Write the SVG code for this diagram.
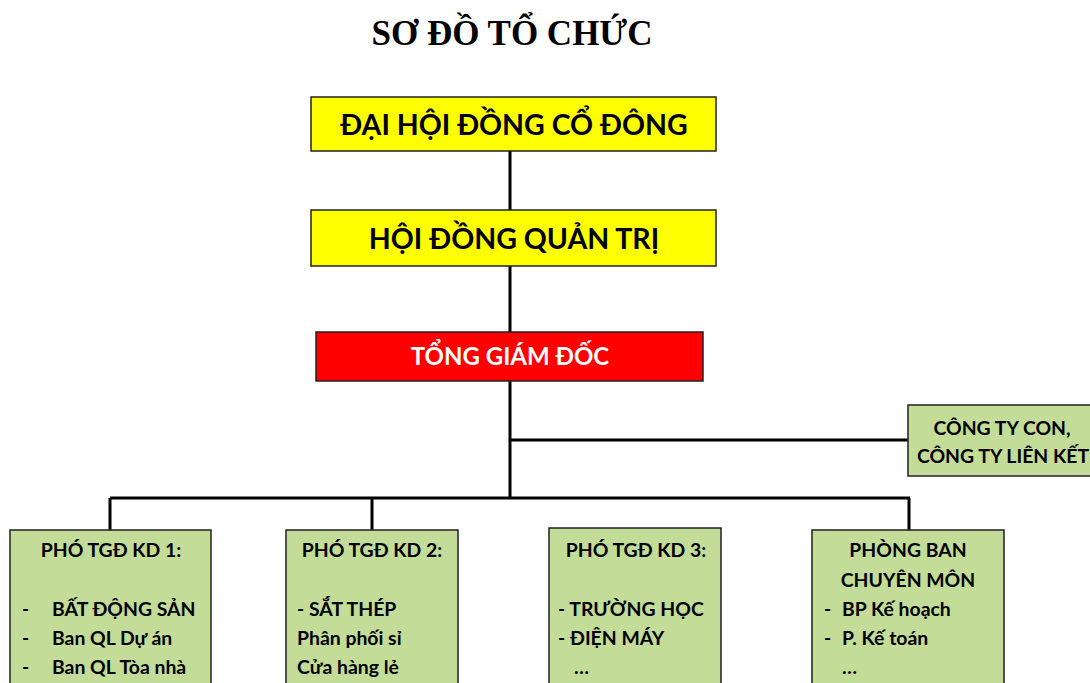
<svg xmlns="http://www.w3.org/2000/svg" width="1090" height="683" viewBox="0 0 1090 683">
<style>
.box{stroke:#222;stroke-width:1.5}
.y{fill:#FFFF00}
.r{fill:#FF0000}
.g{fill:#C3DC97}
.t{font-family:Lato,"Open Sans","Liberation Sans",sans-serif;font-weight:bold;fill:#000}
.w{fill:#fff}
.c{text-anchor:middle}
.s{font-size:19.4px}
.ln{stroke:#000;stroke-width:3;fill:none}
</style>
<rect width="1090" height="683" fill="#fff"/>
<text x="512" y="45" text-anchor="middle" font-family="'Liberation Serif',serif" font-weight="bold" font-size="35">SƠ ĐỒ TỔ CHỨC</text>
<g id="connectors">
<path class="ln" d="M510 151V210M510 266V332M510 381V498M510 440H908M110 498H910M110 498V530M372 498V530M909 498V530"/>
</g>
<g id="dhdcd">
<rect class="box y" x="311" y="97" width="405" height="54"/>
<text class="t c" x="514" y="135" font-size="28.5">ĐẠI HỘI ĐỒNG CỔ ĐÔNG</text>
</g>
<g id="hdqt">
<rect class="box y" x="311" y="210" width="405" height="56"/>
<text class="t c" x="514" y="249" font-size="28.5">HỘI ĐỒNG QUẢN TRỊ</text>
</g>
<g id="tgd">
<rect class="box r" x="316" y="332" width="387" height="49"/>
<text class="t w c" x="510" y="365" font-size="24">TỔNG GIÁM ĐỐC</text>
</g>
<g id="congtycon">
<rect class="box g" x="908" y="405" width="190" height="71"/>
<text class="t c s" x="1002" y="435">CÔNG TY CON,</text>
<text class="t c s" x="1003" y="463">CÔNG TY LIÊN KẾT</text>
</g>
<g id="pho1">
<rect class="box g" x="10" y="530" width="201" height="160"/>
<text class="t c s" x="111" y="557">PHÓ TGĐ KD 1:</text>
<text class="t s" x="22" y="616">-</text><text class="t s" x="52" y="616">BẤT ĐỘNG SẢN</text>
<text class="t s" x="22" y="645">-</text><text class="t s" x="52" y="645">Ban QL Dự án</text>
<text class="t s" x="22" y="674">-</text><text class="t s" x="52" y="674">Ban QL Tòa nhà</text>
</g>
<g id="pho2">
<rect class="box g" x="286" y="530" width="172" height="160"/>
<text class="t c s" x="372" y="557">PHÓ TGĐ KD 2:</text>
<text class="t s" x="297" y="616">-  SẮT THÉP</text>
<text class="t s" x="297" y="645">Phân phối sỉ</text>
<text class="t s" x="297" y="674">Cửa hàng lẻ</text>
</g>
<g id="pho3">
<rect class="box g" x="549" y="528" width="172" height="162"/>
<text class="t c s" x="636" y="557">PHÓ TGĐ KD 3:</text>
<text class="t s" x="558" y="616">- TRƯỜNG HỌC</text>
<text class="t s" x="558" y="645">- ĐIỆN MÁY</text>
<text class="t s" x="574" y="674">…</text>
</g>
<g id="phongban">
<rect class="box g" x="812" y="530" width="192" height="160"/>
<text class="t c s" x="908" y="557">PHÒNG BAN</text>
<text class="t c s" x="908" y="587">CHUYÊN MÔN</text>
<text class="t s" x="824" y="616">-</text><text class="t s" x="842" y="616">BP Kế hoạch</text>
<text class="t s" x="824" y="645">-</text><text class="t s" x="842" y="645">P. Kế toán</text>
<text class="t s" x="842" y="674">…</text>
</g>
</svg>
